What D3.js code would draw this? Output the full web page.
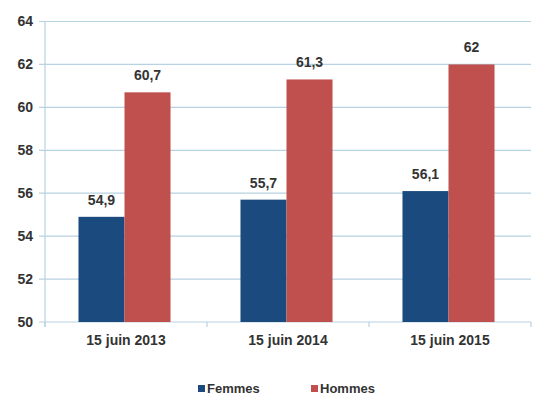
<!DOCTYPE html>
<html><head><meta charset="utf-8">
<script src="https://cdn.jsdelivr.net/npm/d3@7"></script>
<style>body{margin:0;background:#fff}svg{display:block}text{font-family:"Liberation Sans",Arial,sans-serif;font-weight:bold;fill:#333}</style>
</head><body><svg id="c" width="547" height="401"></svg>
<script>
const categories = ["15 juin 2013","15 juin 2014","15 juin 2015"];
const seriesNames = ["Femmes","Hommes"];
const femmes = [54.9, 55.7, 56.1];
const hommes = [60.7, 61.3, 62];
const yTicks = [50,52,54,56,58,60,62,64];
const colors = ["#1b4a7f","#c0504d"];

const svg = d3.select("#c");
const L=45, R=531, T=21.5, B=322;
const x = d3.scaleBand().domain(categories).range([L,R]).paddingInner(0).paddingOuter(0);
const xs = d3.scaleBand().domain(seriesNames).range([0,x.bandwidth()]).paddingInner(0).paddingOuter(0.76);
const y = d3.scaleLinear().domain([50,64]).range([B,T]);

// gridlines
svg.append("g").selectAll("line").data(yTicks).join("line")
  .attr("x1",L-6).attr("x2",R).attr("y1",d=>y(d)).attr("y2",d=>y(d))
  .attr("stroke","#b7d2e2").attr("stroke-width",1.2);
// y axis line
svg.append("line").attr("x1",L).attr("x2",L).attr("y1",T).attr("y2",B+5).attr("stroke","#b7d2e2").attr("stroke-width",1.2);
// x ticks
svg.append("g").selectAll("line").data(d3.range(categories.length+1)).join("line")
  .attr("x1",i=>L+i*x.step()).attr("x2",i=>L+i*x.step()).attr("y1",B).attr("y2",B+5)
  .attr("stroke","#b7d2e2").attr("stroke-width",1.2);

const data = categories.map((c,i)=>({c, vals:[femmes[i],hommes[i]]}));
const g = svg.append("g").selectAll("g").data(data).join("g").attr("transform",d=>`translate(${x(d.c)-1.5},0)`);
g.selectAll("rect").data(d=>d.vals.map((v,j)=>({s:seriesNames[j],v,j}))).join("rect")
  .attr("x",d=>xs(d.s)).attr("width",xs.bandwidth()).attr("y",d=>y(d.v)).attr("height",d=>y(50)-y(d.v))
  .attr("fill",d=>colors[d.j]);
g.selectAll("text").data(d=>d.vals.map((v,j)=>({s:seriesNames[j],v,j}))).join("text")
  .attr("x",d=>xs(d.s)+xs.bandwidth()/2).attr("y",d=>y(d.v)-12).attr("text-anchor","middle")
  .attr("font-size",14).text(d=>String(d.v).replace(".",","));

// y labels
svg.append("g").selectAll("text").data(yTicks).join("text")
  .attr("x",33).attr("y",d=>y(d)).attr("dy","0.35em").attr("text-anchor","end").attr("font-size",14).text(d=>d);
// x labels
svg.append("g").selectAll("text").data(categories).join("text")
  .attr("x",d=>x(d)+x.bandwidth()/2).attr("y",345).attr("text-anchor","middle").attr("font-size",14).text(d=>d);

// legend
const leg = [{n:"Femmes",x:198},{n:"Hommes",x:311}];
const lg = svg.append("g").selectAll("g").data(leg).join("g").attr("transform",d=>`translate(${d.x},393)`);
lg.append("rect").attr("x",0).attr("y",-8).attr("width",7).attr("height",7).attr("fill",(d,i)=>colors[i]);
lg.append("text").attr("x",9).attr("y",0).attr("font-size",13).text(d=>d.n);
</script></body></html>
